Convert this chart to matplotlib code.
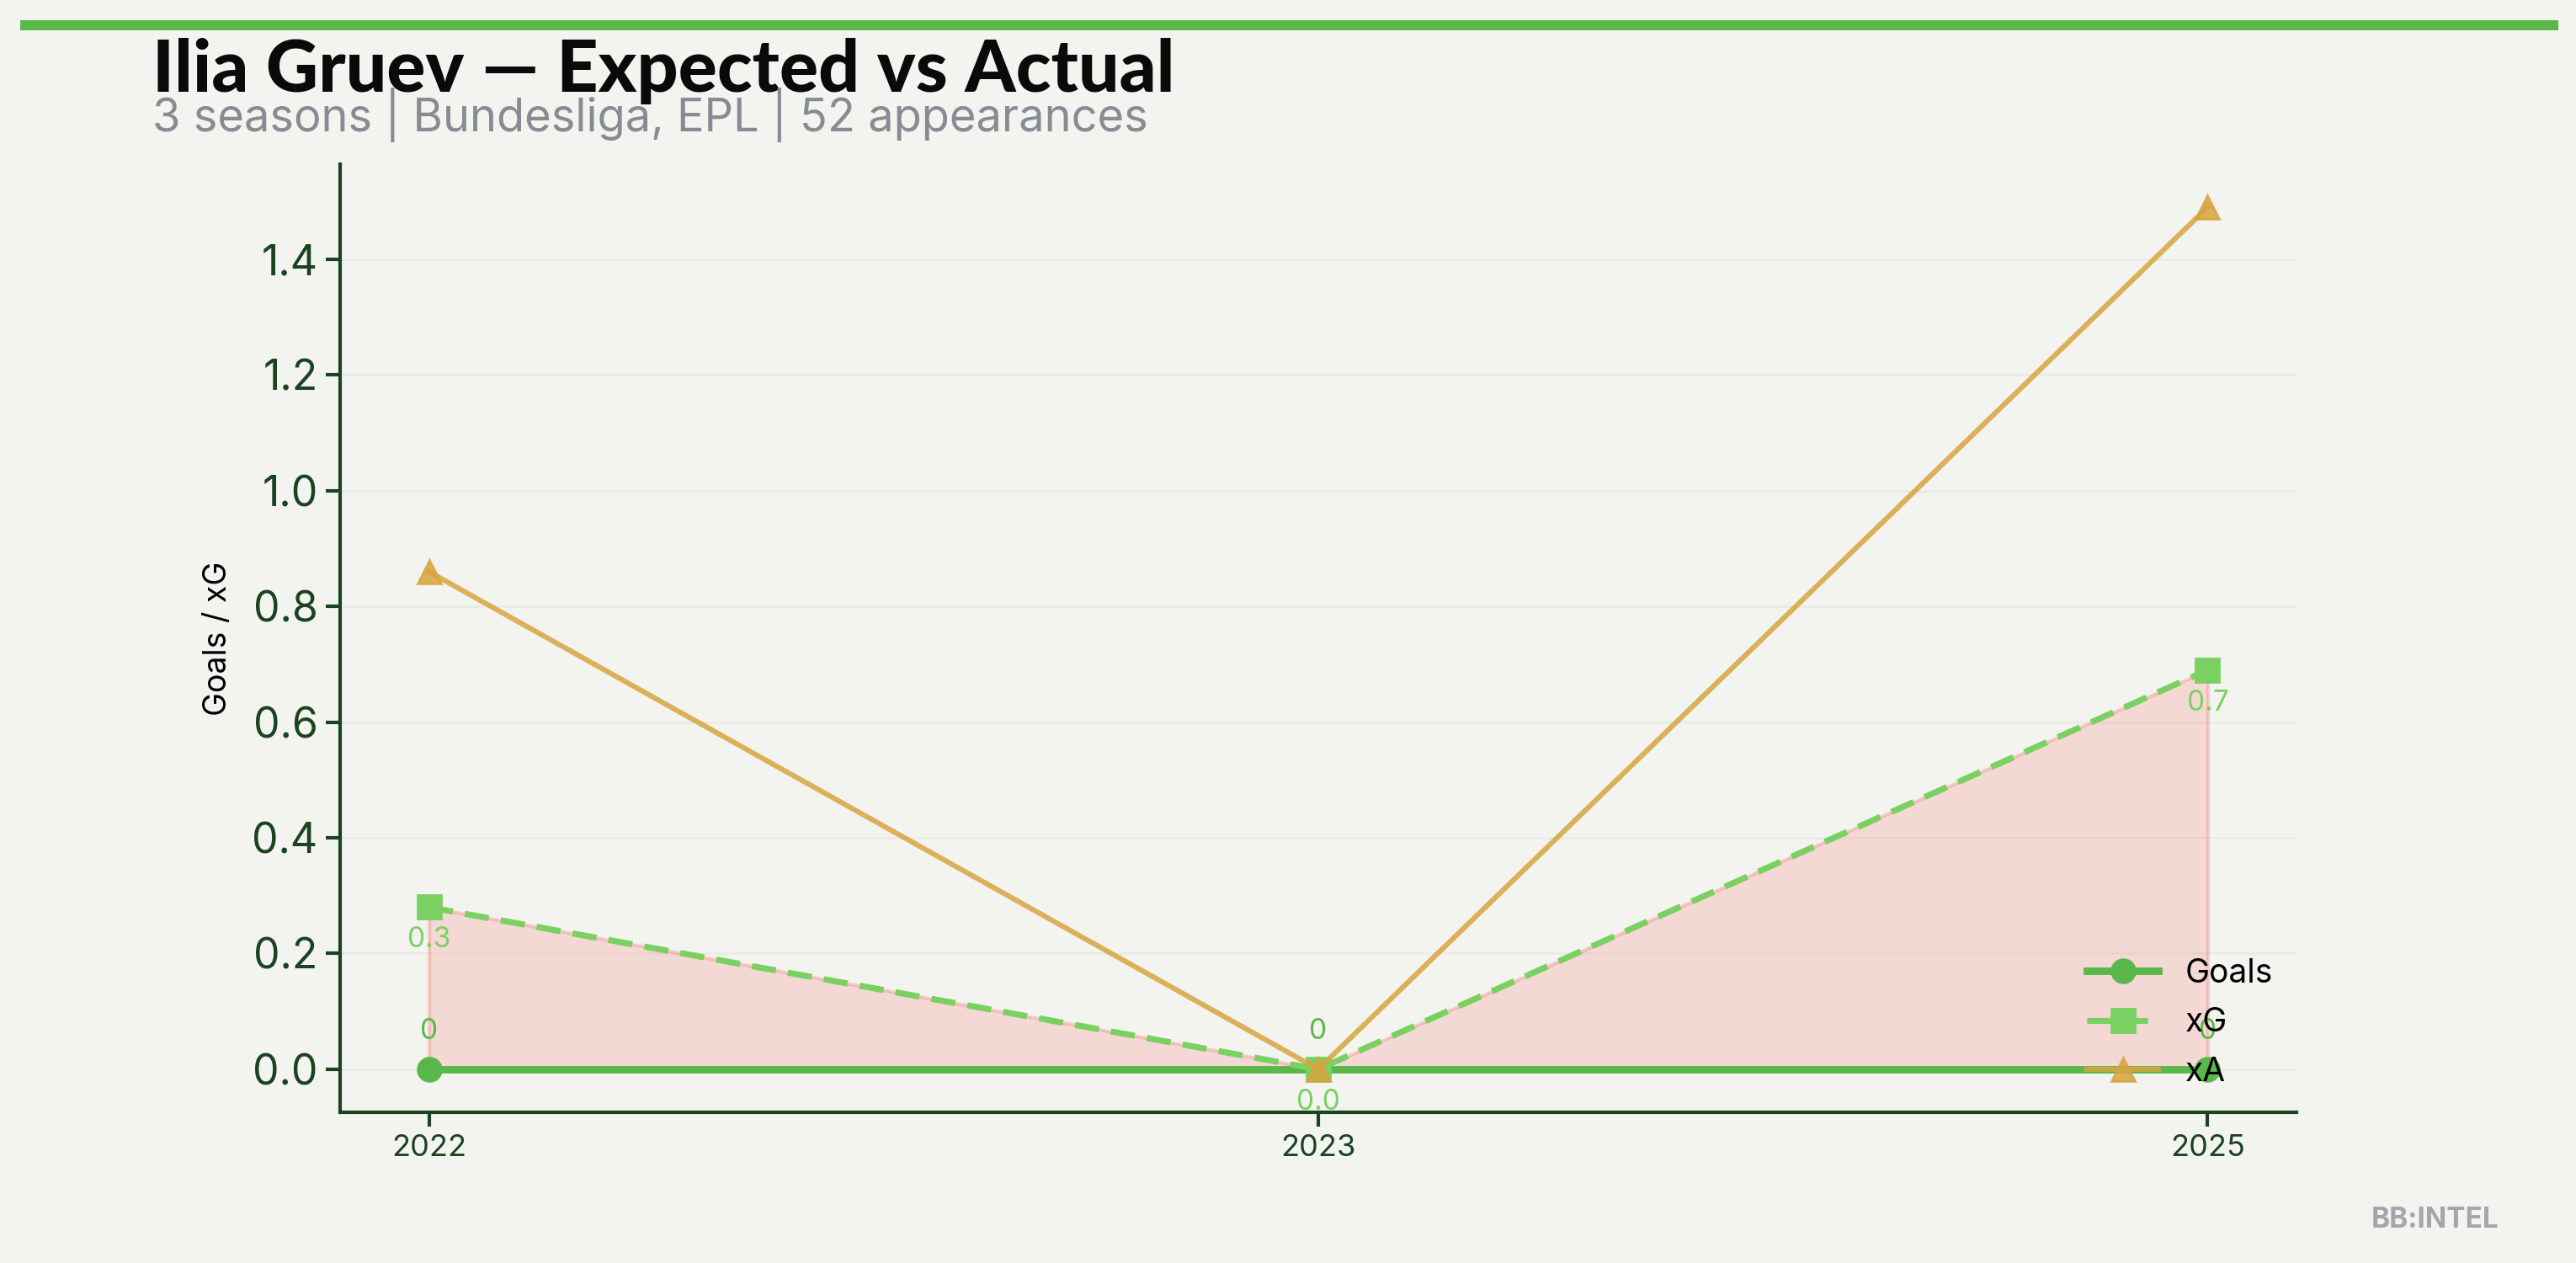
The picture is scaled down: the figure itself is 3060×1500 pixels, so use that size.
import matplotlib
matplotlib.use("Agg")
import numpy as np
from matplotlib import pyplot as plt
from matplotlib.patches import Rectangle

# data
seasons = ["2022", "2023", "2025"]
goals = [0, 0, 0]
xg = [0.28, 0.0, 0.69]
xa = [0.86, 0.0, 1.49]

BG = "#f3f4ef"
DARK = "#1b4322"
GREEN = "#5ab84a"
LGREEN = "#7bd062"
GOLD = "#d7a43f"

plt.rcParams['font.family'] = ['Inter', 'DejaVu Sans']

fig = plt.figure(figsize=(15.3, 7.5), dpi=200, facecolor=BG)
ax = fig.add_axes([0.132, 0.1193, 0.7595, 0.7507], facecolor=BG)

x = np.arange(len(seasons))

ax.fill_between(x, goals, xg, facecolor=(1.0, 0.28, 0.28, 0.16), linewidth=1.5,
                edgecolor=(0.95, 0.45, 0.42, 0.3))
ax.plot(x, goals, color=GREEN, lw=3.2, marker="o", markersize=10, label="Goals", zorder=3)
ax.plot(x, xg, color=LGREEN, lw=2.6, ls="--", dashes=(4, 2), marker="s",
        markersize=10, label="xG", zorder=3)
ax.plot(x, xa, color=GOLD, lw=2.2, marker="^", markersize=10, alpha=0.85,
        label="xA", zorder=4)

for i in range(len(x)):
    ax.annotate(str(goals[i]), (x[i], goals[i]), textcoords="offset points",
                xytext=(0, 16), ha="center", va="center", color=GREEN, fontsize=12)
    ax.annotate("%.1f" % xg[i], (x[i], xg[i]), textcoords="offset points",
                xytext=(0, -14), ha="center", va="center", color=LGREEN, fontsize=12)

ax.set_xticks(x)
ax.set_xticklabels(seasons)
ax.tick_params(axis="x", labelsize=13, colors=DARK, length=6, width=1.5)
ax.tick_params(axis="y", labelsize=18, colors=DARK, length=6, width=1.5)
for s in ["top", "right"]:
    ax.spines[s].set_visible(False)
for s in ["left", "bottom"]:
    ax.spines[s].set_color(DARK)
    ax.spines[s].set_linewidth(1.5)
ax.grid(axis="y", color="#eaece4", lw=1)
ax.set_axisbelow(True)
ax.set_ylabel("Goals / xG", fontsize=13.5, color="black", labelpad=8)

ax.legend(loc="lower right", frameon=False, fontsize=14, labelspacing=0.55,
          bbox_to_anchor=(1.003, -0.005), handlelength=2.2)

fig.add_artist(Rectangle((0.008, 0.976), 0.985, 0.008, transform=fig.transFigure,
                         color="#5ab84a", lw=0))
fig.text(0.059, 0.927, "Ilia Gruev — Expected vs Actual", fontsize=31,
         fontweight="black", family=["Lato", "DejaVu Sans"], color="#0a0a0a",
         va="baseline")
fig.text(0.059, 0.896, "3 seasons | Bundesliga, EPL | 52 appearances", fontsize=19.5,
         color="#868b94", va="baseline")
fig.text(0.970, 0.028, "BB:INTEL", fontsize=12, fontweight="bold", color="#a3a6ac",
         ha="right", va="baseline")

plt.savefig("out.png", dpi=200, facecolor=BG)
